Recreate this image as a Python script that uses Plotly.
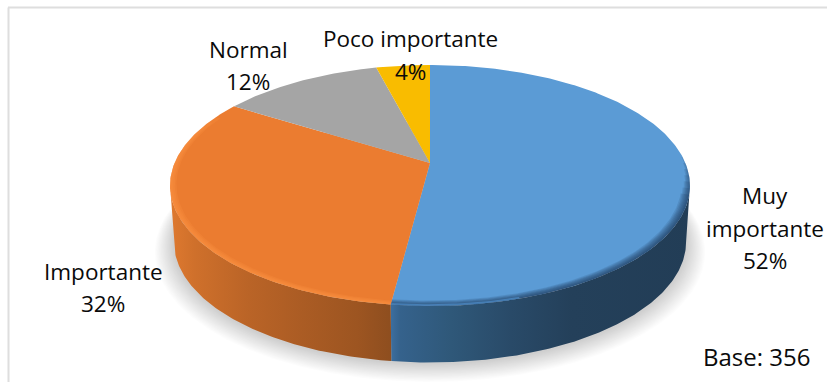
import numpy as np
import plotly.graph_objects as go

categories = ["Muy importante", "Importante", "Normal", "Poco importante"]
values = [52, 32, 12, 4]
percent_labels = ["52%", "32%", "12%", "4%"]
base_note = "Base: 356"

W, H = 828, 382
TOP_COLORS = ["#5B9BD5", "#EB7C30", "#A5A5A5", "#F9BC00"]

# Projection of the circular pie plane to the picture (perspective view)
CX, CY, A, B, K = 430.0, 163.0, 255.4, 116.3, 0.1867
DEPTH, BOTTOM_SCALE = 56.5, 0.985


def project(theta_deg, r=1.0, drop=0.0, xscale=1.0):
    t = np.radians(theta_deg)
    u, v = r * np.sin(t), r * np.cos(t)
    w = 1 + K * v
    return CX + xscale * A * u / w, CY - B * v / w + drop


def arc(t0, t1, r=1.0, drop=0.0, xscale=1.0):
    n = max(int(abs(t1 - t0) * 1.5), 2)
    return project(np.linspace(t0, t1, n), r, drop, xscale)


def poly(fig, x, y, color, **kw):
    fig.add_trace(go.Scatter(x=np.r_[x, x[0]], y=np.r_[y, y[0]], mode="lines", fill="toself",
                             fillcolor=color, line=dict(width=0), hoverinfo="skip",
                             showlegend=False, **kw))


def ring(fig, t0, t1, r_in, r_out, color):
    xo, yo = arc(t0, t1, r_out)
    xi, yi = arc(t1, t0, r_in)
    poly(fig, np.r_[xo, xi], np.r_[yo, yi], color)


fractions = np.array(values, dtype=float) / sum(values)
edges = np.r_[0, np.cumsum(fractions)] * 360

fig = go.Figure()

# soft shadow beneath the pie
for grow in range(16, 0, -1):
    x, y = arc(0, 360, 1.0 + grow * 0.0045, DEPTH + 1 + grow * 0.35, BOTTOM_SCALE)
    poly(fig, x, y, "rgba(0,0,0,0.012)")

# side wall: runs between the silhouette tangents of the projected circle
tangent = np.degrees(np.arccos(-K))
blue_end = edges[1]
side_specs = [
    (tangent, blue_end, [[0, "#3C6E9F"], [0.03, "#35628C"], [0.2, "#2F5879"], [0.4, "#294A68"],
                         [0.6, "#24405A"], [1, "#223D56"]], 391, 692),
    (blue_end, 360 - tangent, [[0, "#E07A30"], [0.12, "#CF702B"], [0.36, "#BA6427"],
                               [0.6, "#AB5C24"], [0.85, "#9D5521"], [1, "#8E4E1F"]], 168, 391),
]
for t0, t1, scale, g0, g1 in side_specs:
    xt, yt = arc(t0, t1)
    xb, yb = arc(t1, t0, 1.0, DEPTH, BOTTOM_SCALE)
    fig.add_trace(go.Scatter(
        x=np.r_[xt, xb, xt[0]], y=np.r_[yt, yb, yt[0]], mode="lines", fill="toself",
        fillgradient=dict(type="horizontal", colorscale=scale, start=g0, stop=g1),
        line=dict(width=0), hoverinfo="skip", showlegend=False))

# top face slices
for i, color in enumerate(TOP_COLORS):
    x, y = arc(edges[i], edges[i + 1])
    poly(fig, np.r_[CX, x], np.r_[CY, y], color)

# bevel: dark blur on the blue rim, light band on the orange rim
for j in range(1, 8):
    ring(fig, 84 + 3 * j, blue_end, 1 - 0.0045 * j, 1.0, "rgba(25,50,78,0.13)")
for j in range(1, 5):
    ring(fig, blue_end, blue_end + 96 + j * 3, 1 - 0.006 * j, 1.0, "rgba(255,150,70,0.2)")
ring(fig, blue_end - 24, blue_end, 0.99, 1.0, "rgba(95,170,240,0.45)")

# labels, line by line
FONT = dict(family="Open Sans", size=22.5, color="#0A0A0A")
label_lines = [
    (["Muy", "importante", percent_labels[0]], 765, [195, 228, 260]),
    ([categories[1], percent_labels[1]], 103, [271, 303]),
    ([categories[2], percent_labels[2]], 248, [49, 81]),
    ([categories[3], percent_labels[3]], 410, [38, 71]),
]
for lines, xc, ys in label_lines:
    for txt, yc in zip(lines, ys):
        fig.add_annotation(x=xc, y=yc, text=txt, showarrow=False, xanchor="center", yanchor="middle",
                           font=FONT)
fig.add_annotation(x=756, y=356, text=base_note, showarrow=False, xanchor="center", yanchor="middle",
                   font=dict(family="Open Sans", size=24, color="#0A0A0A"))

# chart frame: only top and left are inside the crop
fig.add_shape(type="line", x0=8.5, x1=8.5, y0=7.5, y1=H, line=dict(color="#DEDEDE", width=2))
fig.add_shape(type="line", x0=8, x1=827, y0=7.5, y1=7.5, line=dict(color="#DEDEDE", width=2))

fig.update_layout(
    width=W, height=H, margin=dict(l=0, r=0, t=0, b=0), showlegend=False,
    paper_bgcolor="white", plot_bgcolor="white",
    xaxis=dict(range=[0, W], visible=False, fixedrange=True),
    yaxis=dict(range=[H, 0], visible=False, fixedrange=True),
)
fig.write_html("out.html", config={"displayModeBar": False},
               post_script="document.body.style.margin='0';")
